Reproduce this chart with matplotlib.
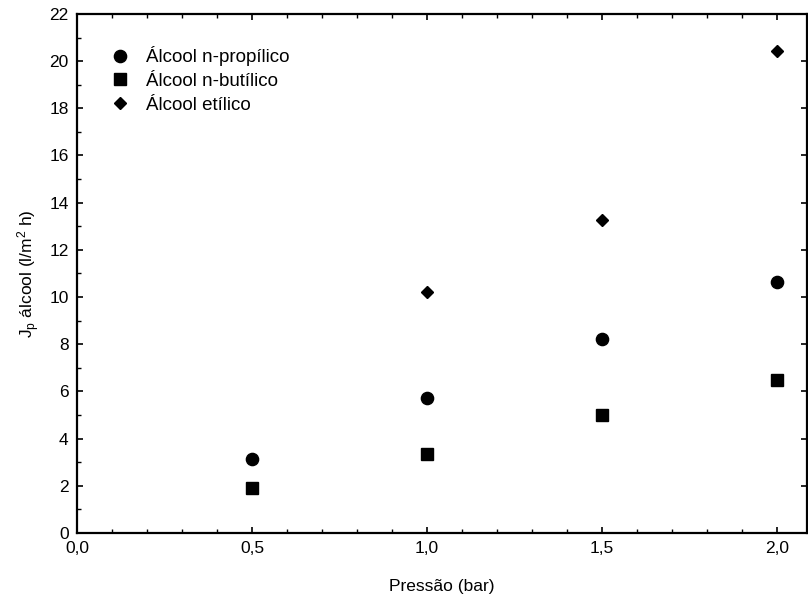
import matplotlib
matplotlib.use("Agg")
import matplotlib.pyplot as plt
from matplotlib.ticker import MultipleLocator, FuncFormatter

plt.rcParams["font.family"] = ["Liberation Sans", "DejaVu Sans"]
plt.rcParams["mathtext.fontset"] = "custom"
plt.rcParams["mathtext.rm"] = "Liberation Sans"
plt.rcParams["mathtext.it"] = "Liberation Sans:italic"

# dados
pressao = [0.5, 1.0, 1.5, 2.0]
propilico = [3.13, 5.72, 8.22, 10.64]
butilico = [1.90, 3.35, 5.00, 6.49]
pressao_etilico = [1.0, 1.5, 2.0]
etilico = [10.20, 13.26, 20.43]

fig = plt.figure(figsize=(8.08, 5.98), dpi=100)
ax = fig.add_axes([0.0953, 0.1087, 0.9035, 0.868])

ax.plot(pressao, propilico, "o", color="black", markersize=8.8,
        linestyle="none", label="Álcool n-propílico")
ax.plot(pressao, butilico, "s", color="black", markersize=8.2,
        linestyle="none", label="Álcool n-butílico")
ax.plot(pressao_etilico, etilico, "D", color="black", markersize=6,
        linestyle="none", label="Álcool etílico")

ax.set_xlim(0, 2.086)
ax.set_ylim(0, 22)

ax.xaxis.set_major_locator(MultipleLocator(0.5))
ax.xaxis.set_minor_locator(MultipleLocator(0.1))
ax.yaxis.set_major_locator(MultipleLocator(2))
ax.yaxis.set_minor_locator(MultipleLocator(1))
ax.xaxis.set_major_formatter(FuncFormatter(lambda v, p: f"{v:.1f}".replace(".", ",")))
ax.yaxis.set_major_formatter(FuncFormatter(lambda v, p: f"{v:.0f}"))

ax.tick_params(which="major", direction="in", length=4, width=1.2,
               labelsize=12.5, top=True, right=True, pad=6)
ax.tick_params(which="minor", direction="in", length=3, width=1,
               top=True, right=False)
ax.tick_params(axis="y", which="both", pad=6)

for s in ax.spines.values():
    s.set_linewidth(1.6)

ax.set_xlabel("Pressão (bar)", fontsize=12.5, labelpad=16)
ax.set_ylabel(r"J$_\mathrm{p}$ álcool (l/m$^2$ h)", fontsize=12.5, labelpad=5)

ax.legend(loc="upper left", bbox_to_anchor=(0.034, 0.952), frameon=False,
          fontsize=13.5, handletextpad=0.85, labelspacing=0.35,
          handlelength=1.1, borderaxespad=0)

fig.savefig("out.png", dpi=100)
